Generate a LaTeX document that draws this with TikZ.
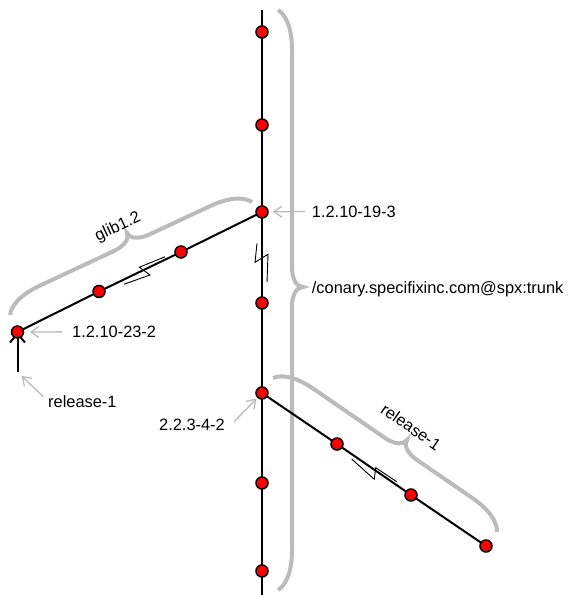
\documentclass[tikz,border=0pt]{standalone}
\usepackage{fontspec}
\setmainfont{Liberation Sans}
\usetikzlibrary{arrows.meta}
\definecolor{bracegray}{RGB}{187,187,187}
\newcommand\mybrace[5]{% x, y, angle, length, tip position
  \begin{scope}[shift={(#1,#2)},x=1bp,y=1bp,rotate=#3]
    \draw[bracestyle] (0,0) .. controls (4,6) and (14,14) .. (40,14)
      -- ({#5-20},14) .. controls ({#5-7},14) and (#5,19) .. (#5,25)
      .. controls (#5,19) and ({#5+7},14) .. ({#5+20},14)
      -- ({#4-40},14) .. controls ({#4-14},14) and ({#4-4},6) .. (#4,0);
  \end{scope}}
\begin{document}
\begin{tikzpicture}[x=1bp,y=-1bp,
  dot/.style={circle,fill=red,draw=black,line width=1.5bp,minimum size=12bp,inner sep=0pt},
  branch/.style={line width=2bp,draw=black},
  bracestyle/.style={draw=bracegray,line width=4bp},
  zig/.style={line width=0.9bp,draw=black},
  lbl/.style={font=\fontsize{16.4bp}{19bp}\selectfont,inner sep=0pt,text=black},
  lblarrow/.style={draw=bracegray,line width=1.3bp,-{Straight Barb[length=8bp,width=11bp]}},
]
\useasboundingbox (0,0) rectangle (570,595);

% braces
\mybrace{278}{10}{-90}{580}{277}
\mybrace{10}{315}{25.03}{267.1}{140.7}
\mybrace{273}{378}{-34.5}{271.8}{145.5}

% positions
\coordinate (ttop) at (262,10);
\coordinate (tbot) at (262,595);
\coordinate (t1) at (262,32);
\coordinate (t2) at (262,125);
\coordinate (t3) at (262,212);
\coordinate (t4) at (262,303);
\coordinate (t5) at (262,393);
\coordinate (t6) at (262,483);
\coordinate (t7) at (262,571);
\coordinate (g1) at (181,252);
\coordinate (g2) at (99,291.5);
\coordinate (g3) at (17.5,332);
\coordinate (gend) at (17.5,372);
\coordinate (r1) at (337,444);
\coordinate (r2) at (411,495);
\coordinate (r3) at (486,546);

% lines
\draw[branch] (ttop) -- (tbot);
\draw[branch] (t3) -- (g1) -- (g2) -- (g3);
\draw[branch] (t5) -- (r1) -- (r2) -- (r3);
\draw[branch,-{Straight Barb[length=9bp,width=15bp]}] (gend) -- (g3);

% zigzags
\begin{scope}[shift={(262,258.3)},x=1bp,y=1bp,rotate=-90]
  \draw[zig] (-15,-5) -- (4,-7) -- (-4,6) -- (24,5);
\end{scope}
\begin{scope}[shift={(144.7,271.2)},x=1bp,y=1bp,rotate=-153.8]
  \draw[zig] (-24.6,-4) -- (3.1,-5.9) -- (-3.1,5.7) -- (24.3,2.6);
\end{scope}
\begin{scope}[shift={(375,473.5)},x=1bp,y=1bp,rotate=-34.5]
  \draw[zig] (-27.4,-1.3) -- (2.7,-5.2) -- (-2.7,5.2) -- (22.5,5.5);
\end{scope}

% dots
\foreach \p in {t1,t2,t3,t4,t5,t6,t7,g1,g2,g3,r1,r2,r3}
  \node[dot] (d\p) at (\p) {};

% labels
\node[lbl,anchor=base west] (l1) at (311.7,217) {1.2.10-19-3};
\node[lbl,anchor=base west] (l2) at (72,337.5) {1.2.10-23-2};
\node[lbl,anchor=base west] (l3) at (48,407) {release-1};
\node[lbl,anchor=base east] (l4) at (225,430.7) {2.2.3-4-2};
\node[lbl,anchor=base west] (l5) at (311.7,293) {/conary.specifixinc.com@spx:trunk};
\node[lbl,rotate=25] (l6) at (118,227) {glib1.2};
\node[lbl,rotate=-34.5] (l7) at (411,427) {release-1};

% label arrows
\draw[lblarrow,shorten <=6.5bp,shorten >=4bp] (l1.west) -- (dt3);
\draw[lblarrow,shorten <=10bp,shorten >=5.5bp] (l2.west) -- (dg3);
\draw[lblarrow,shorten <=6.5bp,shorten >=5.7bp] (l3.west) -- (gend);
\draw[lblarrow,shorten <=13bp,shorten >=1bp] (l4.south east) -- (dt5);
\end{tikzpicture}
\end{document}
